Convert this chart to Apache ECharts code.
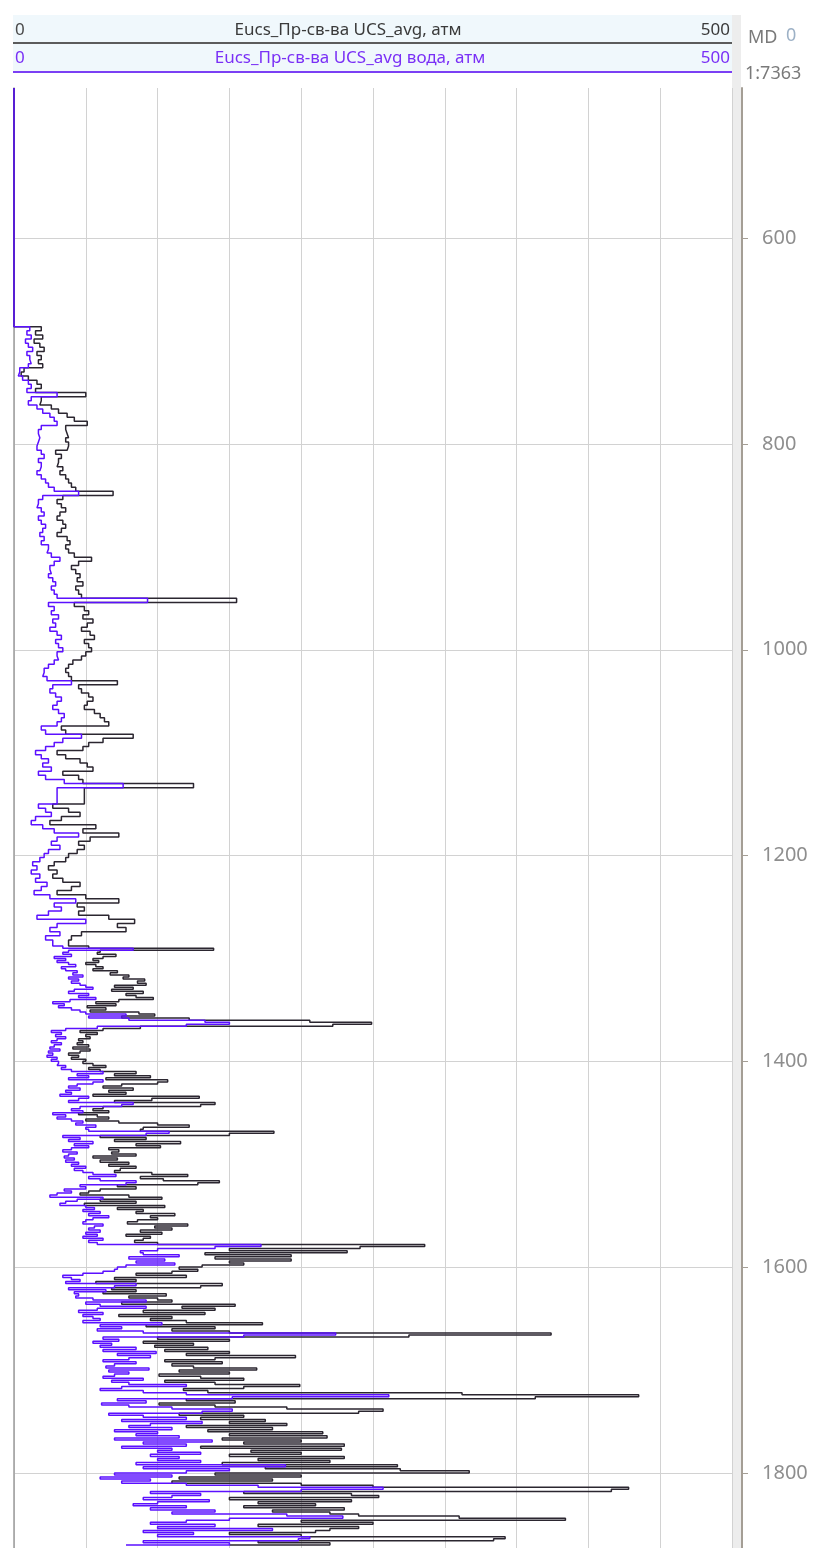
<!DOCTYPE html>
<html>
<head>
<meta charset="utf-8">
<script src="https://cdn.jsdelivr.net/npm/echarts@6/dist/echarts.min.js"></script>
<style>
  html, body { margin: 0; padding: 0; background: #ffffff; }
  #chart { width: 822px; height: 1548px; }
</style>
</head>
<body>
<div id="chart"></div>
<script>
// Well log track: UCS (uniaxial compressive strength), atm, versus measured depth, m.
// The log is stored in two runs, each on its own regular depth grid.

// Above the first reading both curves sit on zero from the top of the track.
const leadInDepth = 454;
const leadInValue = 0;

// Upper run: 686 m .. 1282 m every 4 m
const upperStart = 686;
const upperStep = 4;

// Eucs_Пр-св-ва UCS_avg, атм (upper run)
const ucsAvgUpper = [
  19, 15, 20, 14, 18, 21, 16, 19, 17, 20,
  7, 5, 10, 16, 19, 15, 50, 19, 18, 26,
  31, 37, 42, 51, 36, 37, 38, 36, 38, 37,
  29, 33, 31, 30, 34, 32, 36, 38, 40, 43,
  69, 34, 30, 33, 36, 32, 30, 34, 36, 33,
  30, 37, 39, 36, 38, 42, 54, 45, 40, 43,
  46, 44, 48, 43, 45, 47, 155, 42, 49, 52,
  48, 55, 51, 47, 53, 56, 49, 52, 54, 50,
  47, 41, 38, 36, 38, 40, 72, 45, 47, 52,
  55, 51, 49, 56, 60, 63, 66, 33, 36, 83,
  62, 52, 48, 30, 36, 46, 51, 55, 34, 45,
  48, 125, 49, 49, 49, 49, 27, 38, 46, 33,
  25, 57, 48, 73, 53, 45, 49, 44, 38, 36,
  28, 24, 30, 27, 34, 46, 40, 30, 50, 73,
  44, 49, 45, 66, 84, 72, 78, 47, 40, 38
];

// Eucs_Пр-св-ва UCS_avg вода, атм (upper run)
const ucsAvgWaterUpper = [
  11, 9, 12, 8, 10, 13, 9, 11, 12, 10,
  4, 3, 6, 10, 12, 9, 30, 12, 10, 16,
  20, 25, 28, 30, 19, 17, 18, 17, 16, 16,
  19, 21, 17, 19, 18, 16, 19, 22, 24, 28,
  45, 20, 17, 16, 19, 21, 17, 19, 22, 20,
  18, 21, 19, 24, 23, 26, 32, 28, 25, 26,
  24, 27, 29, 26, 28, 30, 93, 24, 28, 26,
  31, 27, 29, 25, 30, 33, 29, 31, 34, 30,
  31, 28, 24, 21, 20, 23, 40, 27, 25, 29,
  33, 30, 27, 31, 35, 33, 30, 19, 22, 47,
  34, 28, 22, 15, 19, 24, 20, 26, 17, 22,
  35, 76, 30, 30, 30, 30, 17, 22, 26, 15,
  12, 20, 28, 45, 30, 26, 32, 24, 21, 18,
  13, 16, 12, 18, 15, 23, 19, 14, 25, 43,
  28, 33, 24, 16, 50, 30, 25, 32, 22, 27
];

// Lower run: 1288 m .. 1870 m every 2 m
const lowerStart = 1288;
const lowerStep = 2;

// Eucs_Пр-св-ва UCS_avg, атм (lower run)
const ucsAvgLower = [
  52, 139, 60, 58, 71,
  62, 55, 59, 50, 57,
  62, 55, 72, 67, 80,
  76, 91, 86, 92, 70,
  83, 68, 90, 78, 85,
  97, 73, 57, 71, 51,
  64, 53, 87, 98, 75,
  122, 206, 249, 222, 88,
  62, 46, 58, 50, 53,
  45, 48, 44, 52, 41,
  53, 46, 38, 45, 40,
  50, 48, 55, 64, 52,
  60, 85, 70, 95, 64,
  107, 100, 75, 62, 83,
  66, 78, 55, 129, 96,
  70, 140, 130, 62, 55,
  66, 45, 58, 66, 50,
  73, 100, 122, 90, 88,
  181, 150, 60, 92, 70,
  116, 85, 102, 66, 73,
  68, 85, 55, 72, 60,
  80, 66, 85, 74, 70,
  96, 121, 88, 104, 143,
  128, 72, 85, 60, 52,
  46, 80, 103, 60, 85,
  49, 105, 72, 90, 85,
  112, 95, 100, 86, 79,
  121, 98, 110, 88, 103,
  78, 95, 90, 84, 100,
  286, 241, 150, 232, 133,
  193, 140, 193, 150, 160,
  131, 115, 128, 110, 85,
  120, 70, 85, 57, 145,
  130, 68, 85, 62, 106,
  80, 100, 110, 75, 154,
  117, 140, 90, 133, 73,
  110, 95, 120, 173, 92,
  140, 110, 150, 374, 275,
  100, 150, 90, 125, 98,
  135, 105, 150, 120, 196,
  140, 105, 145, 110, 125,
  169, 115, 150, 101, 130,
  160, 105, 140, 199, 160,
  118, 135, 312, 435, 363,
  120, 154, 101, 140, 190,
  257, 240, 115, 160, 130,
  175, 150, 190, 120, 180,
  135, 215, 150, 218, 145,
  200, 160, 230, 130, 228,
  165, 200, 150, 230, 170,
  220, 145, 267, 175, 269,
  317, 140, 200, 115, 180,
  110, 200, 250, 428, 416,
  160, 235, 254, 150, 235,
  170, 210, 160, 230, 180,
  220, 240, 310, 384, 200,
  250, 170, 240, 220, 210,
  150, 200, 342, 334, 170,
  220, 150
];

// Eucs_Пр-св-ва UCS_avg вода, атм (lower run)
const ucsAvgWaterLower = [
  34, 83, 38, 34, 40,
  28, 36, 30, 38, 43,
  33, 36, 44, 41, 48,
  38, 45, 40, 46, 50,
  55, 42, 38, 52, 45,
  57, 39, 27, 35, 31,
  40, 46, 50, 78, 52,
  80, 133, 150, 120, 58,
  36, 26, 33, 29, 36,
  30, 26, 33, 28, 25,
  32, 24, 27, 23, 30,
  26, 31, 30, 36, 33,
  40, 62, 44, 52, 38,
  62, 55, 44, 38, 46,
  36, 40, 32, 52, 45,
  38, 83, 75, 46, 40,
  48, 27, 36, 30, 40,
  48, 43, 57, 50, 52,
  108, 92, 34, 46, 38,
  55, 42, 52, 40, 34,
  44, 38, 35, 42, 36,
  45, 40, 50, 42, 48,
  55, 71, 52, 60, 85,
  78, 46, 50, 35, 40,
  30, 25, 62, 44, 36,
  32, 50, 56, 48, 60,
  52, 66, 55, 50, 48,
  62, 56, 52, 60, 50,
  58, 48, 62, 52, 58,
  172, 140, 100, 88, 90,
  115, 80, 105, 85, 112,
  78, 72, 70, 62, 48,
  34, 40, 46, 36, 85,
  70, 38, 64, 42, 45,
  43, 55, 92, 50, 60,
  92, 58, 45, 62, 48,
  55, 60, 48, 103, 60,
  75, 58, 90, 224, 160,
  62, 73, 55, 68, 60,
  85, 62, 99, 72, 95,
  80, 62, 85, 70, 64,
  94, 66, 80, 70, 62,
  90, 68, 80, 120, 75,
  60, 90, 120, 261, 152,
  72, 92, 61, 80, 110,
  152, 131, 66, 90, 120,
  75, 131, 95, 80, 110,
  70, 100, 85, 115, 70,
  138, 90, 120, 75, 110,
  100, 130, 95, 115, 100,
  130, 85, 189, 90, 150,
  120, 70, 110, 60, 95,
  75, 120, 170, 257, 200,
  95, 130, 110, 90, 136,
  100, 83, 120, 95, 140,
  110, 190, 229, 150, 120,
  95, 140, 100, 180, 90,
  125, 100, 206, 198, 90,
  150, 78
];

// Track scale and depth window
const scaleMin = 0;
const scaleMax = 500;
const scaleStep = 50;
const depthMin = 454;
const depthMax = 1873;
const depthTicks = [600, 800, 1000, 1200, 1400, 1600, 1800];

const curveTitle = 'Eucs_Пр-св-ва UCS_avg, атм';
const curveTitleWater = 'Eucs_Пр-св-ва UCS_avg вода, атм';
const depthTitle = 'MD';
const depthOrigin = '0';
const depthScaleText = '1:7363';

const COLOR_DRY = '#2b2630';
const COLOR_WATER = '#5b10ff';
const FONT = '"Noto Sans", "DejaVu Sans", sans-serif';

function toLogPoints(upper, lower) {
  const pts = [[leadInValue, leadInDepth]];
  upper.forEach((v, i) => pts.push([v, upperStart + i * upperStep]));
  lower.forEach((v, i) => pts.push([v, lowerStart + i * lowerStep]));
  return pts;
}

const chart = echarts.init(document.getElementById('chart'), null, { renderer: 'canvas' });

const trackLeft = 14;
const trackRight = 732;
const headerLeft = 13;

chart.setOption({
  animation: false,
  backgroundColor: '#ffffff',
  grid: {
    left: trackLeft,
    right: 822 - trackRight,
    top: 88,
    bottom: 0,
    containLabel: false,
    outerBoundsMode: 'none'
  },
  xAxis: {
    type: 'value',
    min: scaleMin,
    max: scaleMax,
    interval: scaleStep,
    position: 'top',
    axisLine: { show: false },
    axisTick: { show: false },
    axisLabel: { show: false },
    splitLine: { show: true, lineStyle: { color: '#d2d2d2', width: 1 } }
  },
  yAxis: [
    {
      type: 'value',
      inverse: true,
      min: depthMin,
      max: depthMax,
      position: 'right',
      offset: 10,
      axisLine: { show: true, onZero: false, lineStyle: { color: '#a49e95', width: 2 } },
      axisTick: {
        show: true, inside: false, length: 6,
        customValues: depthTicks,
        lineStyle: { color: '#a49e95', width: 1 }
      },
      axisLabel: {
        show: true,
        customValues: depthTicks,
        formatter: (v) => String(v),
        margin: 20,
        color: '#8e8e8e',
        fontSize: 20,
        fontFamily: FONT
      },
      splitLine: { show: true, lineStyle: { color: '#d2d2d2', width: 1 } }
    },
    {
      type: 'value',
      inverse: true,
      min: depthMin,
      max: depthMax,
      position: 'left',
      axisLine: { show: true, onZero: false, lineStyle: { color: '#9c9c9c', width: 1.5 } },
      axisTick: { show: false },
      axisLabel: { show: false },
      splitLine: { show: false }
    }
  ],
  series: [
    {
      name: curveTitle,
      type: 'line',
      step: 'start',
      data: toLogPoints(ucsAvgUpper, ucsAvgLower),
      showSymbol: false,
      symbol: 'none',
      clip: true,
      z: 3,
      lineStyle: { color: COLOR_DRY, width: 1.5 }
    },
    {
      name: curveTitleWater,
      type: 'line',
      step: 'start',
      data: toLogPoints(ucsAvgWaterUpper, ucsAvgWaterLower),
      showSymbol: false,
      symbol: 'none',
      clip: true,
      z: 4,
      lineStyle: { color: COLOR_WATER, width: 1.5 }
    }
  ],
  graphic: [
    // light separator band between the curve track and the depth track
    { type: 'rect', z: -1, shape: { x: trackRight, y: 15, width: 9, height: 1548 - 15 }, style: { fill: '#ededed' } },
    // curve header
    { type: 'rect', z: 1, shape: { x: headerLeft, y: 15, width: trackRight - headerLeft, height: 58 }, style: { fill: '#f0f8fc' } },
    { type: 'rect', z: 2, shape: { x: headerLeft, y: 42, width: trackRight - headerLeft, height: 2 }, style: { fill: '#5c5c5c' } },
    { type: 'rect', z: 2, shape: { x: headerLeft, y: 71, width: trackRight - headerLeft, height: 2 }, style: { fill: '#7b3ff4' } },
    { type: 'text', z: 3, style: { x: 15, y: 30, text: String(scaleMin), fill: '#4a4a4a', font: '17px ' + FONT, textAlign: 'left', textVerticalAlign: 'middle' } },
    { type: 'text', z: 3, style: { x: 348, y: 30, text: curveTitle, fill: '#3a3a3a', font: '17px ' + FONT, textAlign: 'center', textVerticalAlign: 'middle' } },
    { type: 'text', z: 3, style: { x: 730, y: 30, text: String(scaleMax), fill: '#3a3a3a', font: '17px ' + FONT, textAlign: 'right', textVerticalAlign: 'middle' } },
    { type: 'text', z: 3, style: { x: 15, y: 58, text: String(scaleMin), fill: '#7a30f6', font: '17px ' + FONT, textAlign: 'left', textVerticalAlign: 'middle' } },
    { type: 'text', z: 3, style: { x: 350, y: 58, text: curveTitleWater, fill: '#7a30f6', font: '17px ' + FONT, textAlign: 'center', textVerticalAlign: 'middle' } },
    { type: 'text', z: 3, style: { x: 730, y: 58, text: String(scaleMax), fill: '#7a30f6', font: '17px ' + FONT, textAlign: 'right', textVerticalAlign: 'middle' } },
    // depth track header
    { type: 'text', z: 3, style: { x: 748, y: 38, text: depthTitle, fill: '#7a7a7a', font: '18px ' + FONT, textAlign: 'left', textVerticalAlign: 'middle' } },
    { type: 'text', z: 3, style: { x: 786, y: 36, text: depthOrigin, fill: '#9db1c6', font: '18px ' + FONT, textAlign: 'left', textVerticalAlign: 'middle' } },
    { type: 'text', z: 3, style: { x: 745, y: 74, text: depthScaleText, fill: '#7a7a7a', font: '18px ' + FONT, textAlign: 'left', textVerticalAlign: 'middle' } }
  ]
});
</script>
</body>
</html>
